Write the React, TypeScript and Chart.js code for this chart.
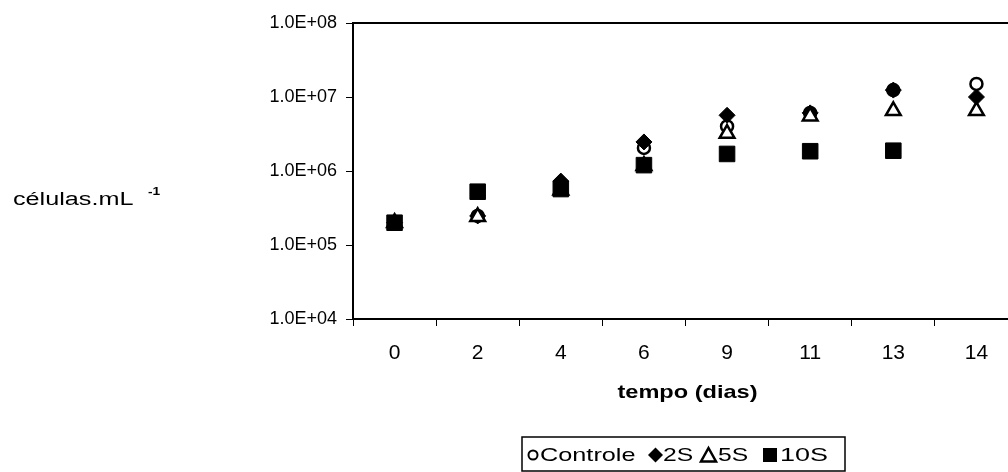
import React, { useEffect, useRef } from 'react';
import { Chart, registerables } from 'chart.js';
Chart.register(...registerables);

const days = ['0', '2', '4', '6', '9', '11', '13', '14'];
const controle = [2.0e5, 2.47e5, 6.5e5, 2.05e6, 4.0e6, 6.1e6, 1.24e7, 1.5e7];
const s2 = [2.0e5, 2.47e5, 7.3e5, 2.47e6, 5.66e6, 6.1e6, 1.24e7, 1.0e7];
const s5 = [2.0e5, 2.4e5, 5.5e5, 1.18e6, 3.2e6, 5.5e6, 6.5e6, 6.5e6];
const s10 = [2.0e5, 5.25e5, 5.7e5, 1.2e6, 1.7e6, 1.85e6, 1.88e6, null];
const yTickValues = [1e4, 1e5, 1e6, 1e7, 1e8];
const seriesNames = ['Controle', '2S', '5S', '10S'];
const xTitle = 'tempo (dias)';
const yTitle = 'células.mL';
const yTitleSup = '-1';

const FONT = "'Liberation Sans', Arial, sans-serif";

function fmtSci(v: number): string {
  const e = Math.round(Math.log10(v));
  return `1.0E+${String(e).padStart(2, '0')}`;
}

function stretchText(ctx: CanvasRenderingContext2D, text: string, x: number, y: number, sx: number) {
  ctx.save();
  ctx.translate(x, y);
  ctx.scale(sx, 1);
  ctx.fillText(text, 0, 0);
  ctx.restore();
}

function drawMarker(ctx: CanvasRenderingContext2D, style: string, x: number, y: number) {
  ctx.save();
  ctx.strokeStyle = '#000';
  ctx.fillStyle = '#000';
  ctx.beginPath();
  if (style === 'circle') {
    ctx.lineWidth = 2;
    ctx.arc(x, y, 4.5, 0, Math.PI * 2);
    ctx.fillStyle = '#fff';
    ctx.fill();
    ctx.stroke();
  } else if (style === 'rectRot') {
    ctx.moveTo(x, y - 7.5);
    ctx.lineTo(x + 7.5, y);
    ctx.lineTo(x, y + 7.5);
    ctx.lineTo(x - 7.5, y);
    ctx.closePath();
    ctx.fill();
  } else if (style === 'triangle') {
    ctx.lineWidth = 2.5;
    ctx.moveTo(x, y - 7);
    ctx.lineTo(x + 7.5, y + 6.5);
    ctx.lineTo(x - 7.5, y + 6.5);
    ctx.closePath();
    ctx.fillStyle = '#fff';
    ctx.fill();
    ctx.stroke();
  } else {
    ctx.rect(x - 7, y - 7, 14, 14);
    ctx.fill();
  }
  ctx.restore();
}

const decorPlugin = {
  id: 'decor',
  afterDraw(chart: any) {
    const ctx: CanvasRenderingContext2D = chart.ctx;
    const a = chart.chartArea;
    ctx.save();
    // top frame line
    ctx.strokeStyle = '#000';
    ctx.lineWidth = 2;
    ctx.beginPath();
    ctx.moveTo(a.left, a.top);
    ctx.lineTo(a.right, a.top);
    ctx.stroke();

    ctx.fillStyle = '#000';
    // x title
    ctx.font = `bold 19px ${FONT}`;
    ctx.textAlign = 'center';
    ctx.textBaseline = 'middle';
    stretchText(ctx, xTitle, (a.left + a.right) / 2 + 2, 393, 1.24);

    // y title
    ctx.font = `18px ${FONT}`;
    ctx.textAlign = 'left';
    ctx.textBaseline = 'alphabetic';
    stretchText(ctx, yTitle, 13, 205, 1.4);
    ctx.font = `bold 11px ${FONT}`;
    stretchText(ctx, yTitleSup, 148, 195, 1.25);

    // legend
    const boxL = 522, boxT = 437, boxR = 845, boxB = 471;
    ctx.lineWidth = 1.5;
    ctx.strokeRect(boxL, boxT, boxR - boxL, boxB - boxT);
    const cy = 455;
    const items = [
      { style: 'circle', mx: 533, tx: 540, sx: 1.33 },
      { style: 'rectRot', mx: 655.5, tx: 663, sx: 1.3 },
      { style: 'triangle', mx: 708.5, tx: 718, sx: 1.3 },
      { style: 'rect', mx: 770, tx: 780, sx: 1.42 },
    ];
    items.forEach((it, i) => {
      drawMarker(ctx, it.style, it.mx, cy);
      ctx.fillStyle = '#000';
      ctx.font = `19px ${FONT}`;
      ctx.textAlign = 'left';
      ctx.textBaseline = 'middle';
      stretchText(ctx, seriesNames[i], it.tx, cy + 1, it.sx);
    });
    ctx.restore();
  },
};

export default function App() {
  const ref = useRef<HTMLCanvasElement>(null);
  useEffect(() => {
    if (!ref.current) return;
    const mk = (label: string, data: any[], style: string, radius: number, bg: string, bw: number, order: number) => ({
      label,
      data,
      order,
      showLine: false,
      pointStyle: style,
      pointRadius: radius,
      pointHoverRadius: radius,
      pointBackgroundColor: bg,
      pointBorderColor: '#000',
      pointBorderWidth: bw,
      borderColor: '#000',
      backgroundColor: bg,
    });
    const chart = new Chart(ref.current, {
      type: 'line',
      data: {
        labels: days,
        datasets: [
          mk(seriesNames[0], controle, 'circle', 6, '#fff', 2.5, 4),
          mk(seriesNames[1], s2, 'rectRot', 8, '#000', 1, 3),
          mk(seriesNames[2], s5, 'triangle', 8.5, '#fff', 2.5, 2),
          mk(seriesNames[3], s10, 'rect', 11, '#000', 1, 1),
        ],
      },
      options: {
        responsive: false,
        animation: false,
        devicePixelRatio: 1,
        layout: { padding: { left: 0, right: 12, top: 23, bottom: 0 } },
        plugins: { legend: { display: false }, tooltip: { enabled: false } },
        scales: {
          x: {
            type: 'category',
            offset: true,
            afterFit: (s: any) => { s.height = 472 - 319; },
            grid: { offset: true, drawOnChartArea: false, drawTicks: true, tickLength: 7, color: '#000', lineWidth: 1 },
            border: { display: true, color: '#000', width: 2 },
            ticks: { color: '#000', font: { family: FONT, size: 21 }, padding: 15, maxRotation: 0 },
          },
          y: {
            type: 'logarithmic',
            min: 1e4,
            max: 1e8,
            afterFit: (s: any) => { s.width = 353; },
            afterBuildTicks: (s: any) => { s.ticks = yTickValues.map((v) => ({ value: v, major: true })); },
            grid: { drawOnChartArea: false, drawTicks: true, tickLength: 7, color: '#000', lineWidth: 1 },
            border: { display: true, color: '#000', width: 2 },
            ticks: {
              color: '#000',
              font: { family: FONT, size: 18 },
              padding: 9,
              autoSkip: false,
              callback: (v: any) => fmtSci(Number(v)),
            },
          },
        },
      },
      plugins: [decorPlugin],
    });
    return () => chart.destroy();
  }, []);
  return (
    <div style={{ position: 'fixed', left: 0, top: 0, width: 1008, height: 472, overflow: 'hidden', background: '#fff' }}>
      <canvas ref={ref} width={1030} height={472} style={{ width: 1030, height: 472, display: 'block' }} />
    </div>
  );
}
